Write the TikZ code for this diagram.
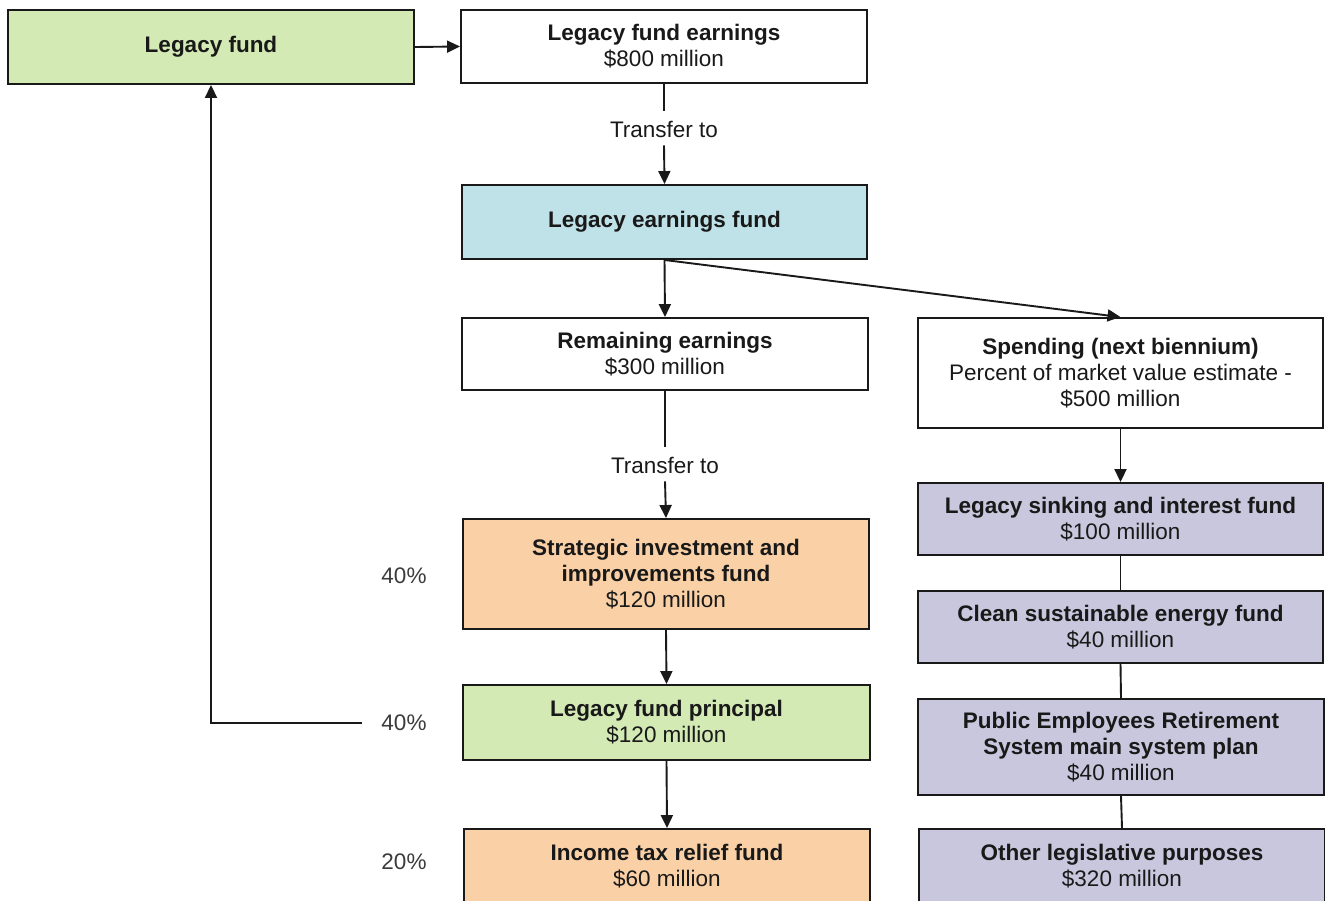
\documentclass[tikz,border=0pt]{standalone}
\usepackage{fontspec}
\setmainfont{Liberation Sans}
\usetikzlibrary{arrows.meta}
\definecolor{fgreen}{RGB}{211,234,181}
\definecolor{fblue}{RGB}{191,225,232}
\definecolor{forange}{RGB}{250,208,166}
\definecolor{fpurple}{RGB}{201,199,221}
\definecolor{ink}{RGB}{25,25,25}
\tikzset{
  box/.style={draw=ink, line width=1.9pt, align=center, inner sep=0pt,
    font=\fontsize{22.5}{26}\selectfont, text=ink},
  lbl/.style={font=\fontsize{22.5}{26}\selectfont, text=ink, inner sep=0pt},
  arr/.style={draw=ink, line width=1.9pt, -{Triangle[length=13pt,width=12pt]}},
  ln/.style={draw=ink, line width=1.9pt},
}
\begin{document}
\begin{tikzpicture}[x=1pt,y=-1pt]
\useasboundingbox (0,0) rectangle (1325,900);
\clip (0,0) rectangle (1325,900);
\node[box, fill=fgreen, minimum width=406pt, minimum height=74pt] (lf) at (211,47) {\textbf{Legacy fund}};
\node[box, fill=white, minimum width=406pt, minimum height=73pt] (lfe) at (664,46.5) {\textbf{Legacy fund earnings}\\\$800 million};
\node[lbl] (t1) at (664,129) {Transfer to};
\node[box, fill=fblue, minimum width=405pt, minimum height=74pt] (lef) at (664.5,222) {\textbf{Legacy earnings fund}};
\node[box, fill=white, minimum width=406pt, minimum height=72pt] (rem) at (665,354) {\textbf{Remaining earnings}\\\$300 million};
\node[box, fill=white, minimum width=405pt, minimum height=110pt] (spd) at (1120.5,373) {\textbf{Spending (next biennium)}\\Percent of market value estimate -\\\$500 million};
\node[lbl] (t2) at (665,465) {Transfer to};
\node[box, fill=forange, minimum width=406pt, minimum height=110pt] (sii) at (666,574) {\textbf{Strategic investment and}\\\textbf{improvements fund}\\\$120 million};
\node[box, fill=fgreen, minimum width=407pt, minimum height=75pt] (lfp) at (666.5,722.5) {\textbf{Legacy fund principal}\\\$120 million};
\node[box, fill=forange, minimum width=406pt, minimum height=74pt] (itr) at (667,866) {\textbf{Income tax relief fund}\\\$60 million};
\node[box, fill=fpurple, minimum width=405pt, minimum height=72pt] (sink) at (1120.5,519) {\textbf{Legacy sinking and interest fund}\\\$100 million};
\node[box, fill=fpurple, minimum width=405pt, minimum height=72pt] (clean) at (1120.5,627) {\textbf{Clean sustainable energy fund}\\\$40 million};
\node[box, fill=fpurple, minimum width=406pt, minimum height=96pt] (pers) at (1121,747) {\textbf{Public Employees Retirement}\\\textbf{System main system plan}\\\$40 million};
\node[box, fill=fpurple, minimum width=406pt, minimum height=74pt] (oth) at (1122,866) {\textbf{Other legislative purposes}\\\$320 million};
\node[lbl, text=ink!85] (p1) at (404,576) {40\%};
\node[lbl, text=ink!85] (p2) at (404,723) {40\%};
\node[lbl, text=ink!85] (p3) at (404,862) {20\%};
\coordinate (fb) at (362,723);
% connectors
\draw[arr] (lf.east) -- (lfe.west);
\draw[ln] (lfe.south) -- ([yshift=10pt]t1.north);
\draw[arr] ([yshift=-8pt]t1.south) -- (lef.north);
\draw[arr] (lef.south) -- (rem.north);
\draw[arr] (lef.south) -- (spd.north);
\draw[ln] (rem.south) -- ([yshift=10pt]t2.north);
\draw[arr] ([yshift=-8pt]t2.south) -- (sii.north);
\draw[arr] (sii.south) -- (lfp.north);
\draw[arr] (lfp.south) -- (itr.north);
\draw[arr] (spd.south) -- (sink.north);
\draw[ln] (sink.south) -- (clean.north);
\draw[ln] (clean.south) -- (pers.north);
\draw[ln] (pers.south) -- (oth.north);
\draw[arr] (fb) -| (lf.south);
\end{tikzpicture}
\end{document}
